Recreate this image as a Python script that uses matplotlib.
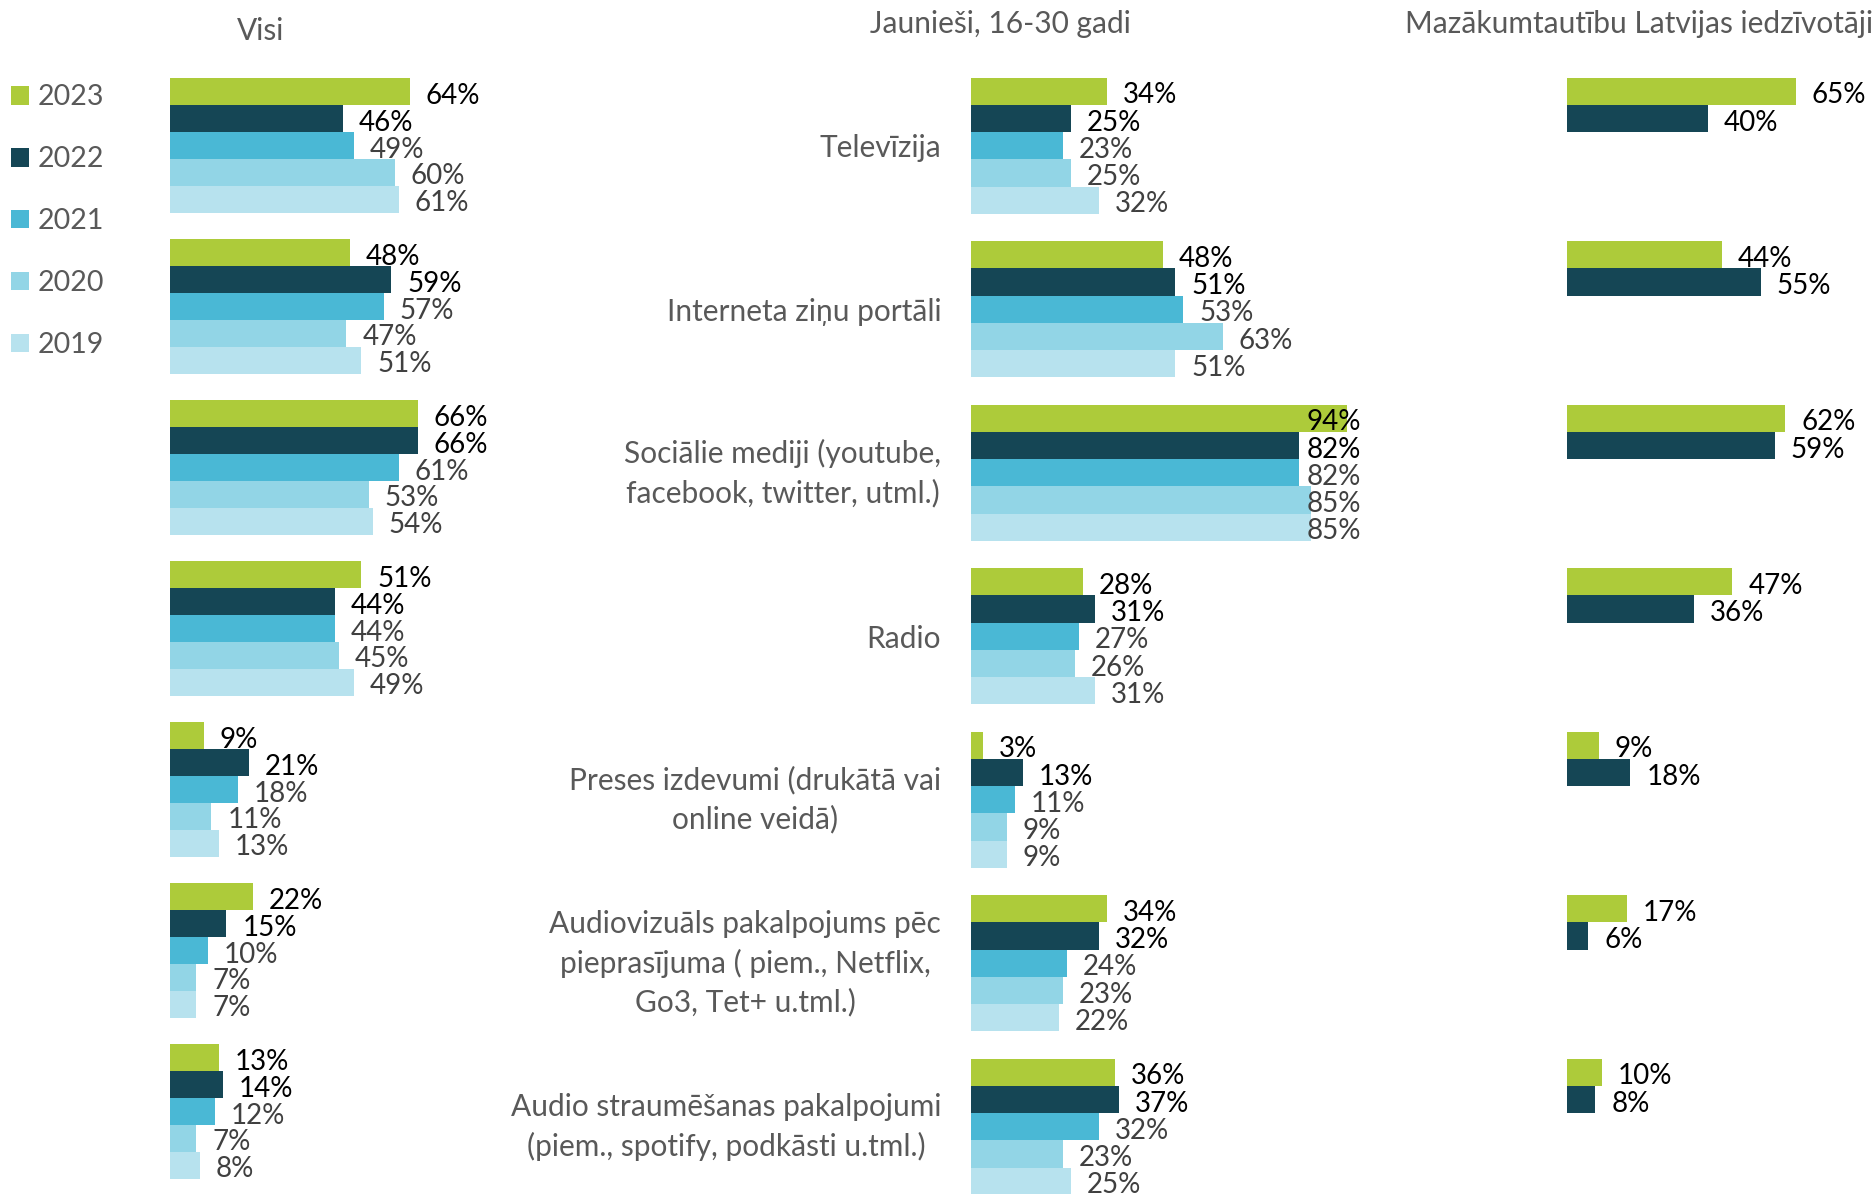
import matplotlib
matplotlib.use("Agg")
import matplotlib.pyplot as plt
import numpy as np

plt.rcParams['font.family'] = ['Lato', 'DejaVu Sans']

# dati
gadi = ['2023', '2022', '2021', '2020', '2019']
kategorijas = ['Televīzija',
               'Interneta ziņu portāli',
               'Sociālie mediji (youtube,\nfacebook, twitter, utml.)',
               'Radio',
               'Preses izdevumi (drukātā vai\nonline veidā)',
               'Audiovizuāls pakalpojums pēc\npieprasījuma ( piem., Netflix,\nGo3, Tet+ u.tml.)',
               'Audio straumēšanas pakalpojumi\n(piem., spotify, podkāsti u.tml.)']

visi_2023 = [64, 48, 66, 51, 9, 22, 13]
visi_2022 = [46, 59, 66, 44, 21, 15, 14]
visi_2021 = [49, 57, 61, 44, 18, 10, 12]
visi_2020 = [60, 47, 53, 45, 11, 7, 7]
visi_2019 = [61, 51, 54, 49, 13, 7, 8]

jaun_2023 = [34, 48, 94, 28, 3, 34, 36]
jaun_2022 = [25, 51, 82, 31, 13, 32, 37]
jaun_2021 = [23, 53, 82, 27, 11, 24, 32]
jaun_2020 = [25, 63, 85, 26, 9, 23, 23]
jaun_2019 = [32, 51, 85, 31, 9, 22, 25]

maz_2023 = [65, 44, 62, 47, 9, 17, 10]
maz_2022 = [40, 55, 59, 36, 18, 6, 8]

krasas = ['#ADCB3A', '#154655', '#4AB8D5', '#92D5E6', '#B7E2EE']
teksta_krasas = ['#000000', '#000000', '#404040', '#404040', '#404040']
peleks = '#595959'

W, H = 1875, 1194
fig = plt.figure(figsize=(W / 100, H / 100), dpi=100)


def axes_px(x0, width, top, bottom):
    return fig.add_axes([x0 / W, (H - bottom) / H, width / W, (bottom - top) / H])


def zimet(ax, serijas, px_uz_proc, lim_px=None):
    h = 1 / 6
    y = np.arange(len(kategorijas))
    stabini = []
    for j, vert in enumerate(serijas):
        pos = y - 2 * h + j * h
        b = ax.barh(pos, vert, height=h, color=krasas[j], label=gadi[j])
        stabini.append(b)
        for yy, v in zip(pos, vert):
            # etiķetes platums ~54 px, atstarpe 16 px
            if lim_px is not None and v * px_uz_proc + 16 + 54 > lim_px:
                ax.text(lim_px / px_uz_proc, yy + 0.025, f'{v}%', ha='right', va='center',
                        fontsize=20, color=teksta_krasas[j])
            else:
                ax.annotate(f'{v}%', (v, yy + 0.025), xytext=(11.5, 0),
                            textcoords='offset points', ha='left', va='center',
                            fontsize=20, color=teksta_krasas[j])
    ax.set_xlim(0, 100)
    ax.set_ylim(6.5, -0.5)
    ax.set_xticks([])
    ax.set_yticks([])
    for s in ax.spines.values():
        s.set_visible(False)
    return stabini


ax1 = axes_px(170, 375, 65, 1192)
h1 = zimet(ax1, [visi_2023, visi_2022, visi_2021, visi_2020, visi_2019], 3.75)

ax2 = axes_px(971, 400, 64, 1208.5)
zimet(ax2, [jaun_2023, jaun_2022, jaun_2021, jaun_2020, jaun_2019], 4.0, lim_px=390)
ax2.set_yticks(np.arange(len(kategorijas)))
ax2.set_yticklabels(kategorijas, fontsize=21.5, color=peleks, linespacing=1.45)
ax2.tick_params(axis='y', length=0, pad=21.5)
for t in ax2.get_yticklabels():
    t.set_multialignment('center')
    if '\n' in t.get_text():
        t.set_verticalalignment('center')

ax3 = axes_px(1567, 352, 64, 1208.5)
zimet(ax3, [maz_2023, maz_2022], 3.52)

# virsraksti
fig.text(261 / W, 1 - 31 / H, 'Visi', ha='center', va='center', fontsize=21.5, color=peleks)
fig.text(1000 / W, 1 - 24 / H, 'Jaunieši, 16-30 gadi', ha='center', va='center',
         fontsize=21.5, color=peleks)
fig.text(1639 / W, 1 - 24 / H, 'Mazākumtautību Latvijas iedzīvotāji', ha='center',
         va='center', fontsize=21.5, color=peleks)

leg = fig.legend(handles=h1, labels=gadi, loc='upper left', bbox_to_anchor=(0.0, 1 - 73 / H),
                 frameon=False, fontsize=20.5, handlelength=0.63, handleheight=0.63,
                 handletextpad=0.3, labelspacing=1.26, borderpad=0, borderaxespad=0.4)
for t in leg.get_texts():
    t.set_color(peleks)

fig.savefig('out.png', dpi=100)
